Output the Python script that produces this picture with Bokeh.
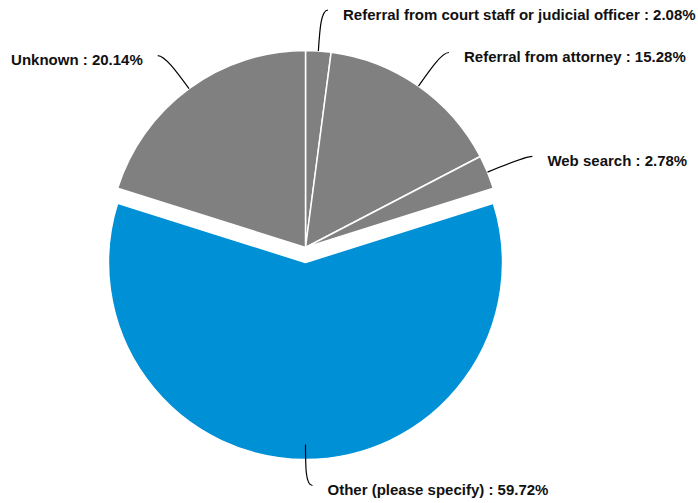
import numpy as np
from bokeh.plotting import figure
from bokeh.models import Range1d, ColumnDataSource
from bokeh.core.properties import value
from bokeh.embed import file_html
from bokeh.resources import INLINE

categories = [
    "Referral from court staff or judicial officer",
    "Referral from attorney",
    "Web search",
    "Other (please specify)",
    "Unknown",
]
percentages = [2.08, 15.28, 2.78, 59.72, 20.14]
slice_colors = ["#808080", "#808080", "#808080", "#0090d5", "#808080"]
explode = [0, 0, 0, 15, 0]

W, H = 698, 503
R = 197          # pie radius (px)
R_LINE_END = 238 # where connectors end
CURL = 7
GAP = 15

p = figure(width=W, height=H, output_backend="svg", toolbar_location=None,
           x_range=Range1d(-305, 393), y_range=Range1d(-256, 247),
           min_border=0, outline_line_color=None)
p.axis.visible = False
p.grid.visible = False
p.background_fill_color = "white"
p.border_fill_color = "white"

vals = np.array(percentages, dtype=float)
frac = vals / vals.sum()
cum_end = np.cumsum(frac)
cum_start = cum_end - frac
start = np.pi / 2 - 2 * np.pi * cum_start
end = np.pi / 2 - 2 * np.pi * cum_end
mid = (start + end) / 2
ux, uy = np.cos(mid), np.sin(mid)
cx = ux * np.array(explode)
cy = uy * np.array(explode)

src = ColumnDataSource(dict(x=cx, y=cy, s=start, e=end, c=slice_colors))
p.wedge(x="x", y="y", radius=R, start_angle="s", end_angle="e",
        direction="clock", fill_color="c", line_color="white", line_width=1.5,
        source=src)

sign = np.where(ux >= -1e-9, 1.0, -1.0)
x0, y0 = R * ux, R * uy
c1x, c1y = (R + 22) * ux, (R + 22) * uy
c2x, c2y = R_LINE_END * ux, R_LINE_END * uy
x1, y1 = c2x + sign * CURL, c2y
p.bezier(x0=x0, y0=y0, x1=x1, y1=y1, cx0=c1x, cy0=c1y, cx1=c2x, cy1=c2y,
         line_color="black", line_width=1.2)

texts = [f"{c} : {v:.2f}%" for c, v in zip(categories, percentages)]
right = sign > 0
for mask, align in ((right, "left"), (~right, "right")):
    p.text(x=list(x1[mask] + sign[mask] * GAP), y=list(y1[mask] - 4),
           text=[t for t, m in zip(texts, mask) if m],
           text_align=align, text_baseline="middle",
           text_font=value("Liberation Sans"), text_font_style="bold",
           text_font_size="15px", text_color="#111111")

open("out.html", "w").write(file_html(p, INLINE))
